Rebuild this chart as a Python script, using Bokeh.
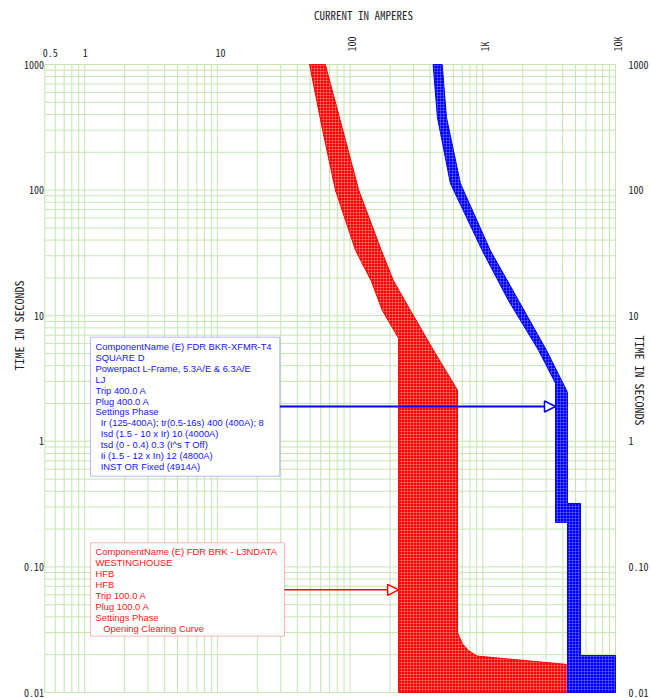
import math
from bokeh.plotting import figure
from bokeh.models import Range1d, Label, BoxAnnotation, Arrow, NormalHead
from bokeh.embed import file_html
from bokeh.resources import INLINE
from bokeh.core.properties import value

# ---------------- data ----------------
# Westinghouse HFB 100A - opening/clearing band (amps, seconds)
red_min_amps = [49.5, 61.5, 77.5, 110, 144, 175, 232, 232]
red_min_secs = [1000, 315, 100, 33, 19, 11, 6.6, 0.01]
red_max_amps = [65, 87, 116, 172, 212, 285, 425, 645, 645, 700, 780, 905, 4350, 4350]
red_max_secs = [1000, 315, 100, 33, 19, 11, 5.3, 2.55, 0.030, 0.0245, 0.0216, 0.0195, 0.0167, 0.01]

# Square D Powerpact LJ 400A band
blue_min_amps = [422, 455, 570, 990, 1560, 2630, 3530, 3530, 4350, 4350]
blue_min_secs = [1000, 380, 113, 33, 13.2, 5.3, 2.9, 0.226, 0.226, 0.01]
blue_max_amps = [494, 532, 678, 1140, 1860, 3020, 4350, 4350, 5450, 5450, 10000, 10000]
blue_max_secs = [1000, 380, 113, 33, 13.2, 5.3, 2.45, 0.32, 0.32, 0.0197, 0.0197, 0.01]

top_flat_ticks = [0.5, 1, 10]
top_flat_labels = ["0.5", "1", "10"]
top_rot_ticks = [100, 1000, 10000]
top_rot_labels = ["100", "1K", "10K"]
side_ticks = [1000, 100, 10, 1, 0.1, 0.01]
side_labels = ["1000", "100", "10", "1", "0.10", "0.01"]

x_lo, x_hi = 0.5, 10000
y_lo, y_hi = 0.01, 1000
x_decades = [0.1, 1, 10, 100, 1000, 10000]
y_decades = [0.01, 0.1, 1, 10, 100, 1000]
minor_mult = [1, 2, 3, 4, 5, 6, 7, 8, 9]

blue_lines = [
    "ComponentName (E) FDR BKR-XFMR-T4",
    "SQUARE D",
    "Powerpact L-Frame, 5.3A/E & 6.3A/E",
    "LJ",
    "Trip 400.0 A",
    "Plug 400.0 A",
    "Settings Phase",
    "\u00a0\u00a0Ir (125-400A); tr(0.5-16s) 400 (400A); 8",
    "\u00a0\u00a0Isd (1.5 - 10 x Ir) 10 (4000A)",
    "\u00a0\u00a0tsd (0 - 0.4) 0.3 (I^s T Off)",
    "\u00a0\u00a0Ii (1.5 - 12 x In) 12 (4800A)",
    "\u00a0\u00a0INST OR Fixed (4914A)",
]
red_lines = [
    "ComponentName (E) FDR BRK - L3NDATA",
    "WESTINGHOUSE",
    "HFB",
    "HFB",
    "Trip 100.0 A",
    "Plug 100.0 A",
    "Settings Phase",
    "\u00a0\u00a0\u00a0Opening Clearing Curve",
]

# ---------------- geometry: canvas pixel <-> data (log-log) ----------------
W, H = 650, 698
FX0, FX1, FY0, FY1 = 44.3, 615.0, 64.0, 692.0
XDEC = (FX1 - FX0) / math.log10(x_hi / x_lo)
YDEC = (FY1 - FY0) / math.log10(y_hi / y_lo)


def ax(px):
    return x_lo * 10 ** ((px - FX0) / XDEC)


def ty(py):
    return y_hi * 10 ** (-(py - FY0) / YDEC)


GRID = "#c6e5b1"
MONO = "Noto Sans Mono CJK JP, DejaVu Sans Mono"
SANS = "Liberation Sans"
TXT = "#1e1e2a"

p = figure(width=W, height=H, x_axis_type="log", y_axis_type="log",
           x_range=Range1d(ax(0), ax(W)), y_range=Range1d(ty(H), ty(0)),
           x_axis_location=None, y_axis_location=None,
           output_backend="svg", toolbar_location=None,
           min_border=0, min_border_left=0, min_border_right=0,
           min_border_top=0, min_border_bottom=0)
p.outline_line_color = None
p.background_fill_color = "white"
p.border_fill_color = "white"
p.grid.visible = False

# log grid (chart area 0.5 A .. 10 kA, 0.01 s .. 1000 s)
gx = sorted({round(m * d, 6) for d in x_decades for m in minor_mult if x_lo <= m * d <= x_hi})
gy = sorted({round(m * d, 6) for d in y_decades for m in minor_mult if y_lo <= m * d <= y_hi})
p.segment(x0=gx, y0=[y_lo] * len(gx), x1=gx, y1=[y_hi] * len(gx), line_color=GRID, line_width=1)
p.segment(x0=[x_lo] * len(gy), y0=gy, x1=[x_hi] * len(gy), y1=gy, line_color=GRID, line_width=1)

# bands
red_x = red_min_amps + red_max_amps[::-1]
red_y = red_min_secs + red_max_secs[::-1]
blue_x = blue_min_amps + blue_max_amps[::-1]
blue_y = blue_min_secs + blue_max_secs[::-1]
p.patch(red_x, red_y, fill_color="#ff0000", line_color="#ff0000", line_width=1,
        hatch_pattern="+", hatch_color="white", hatch_alpha=0.45, hatch_scale=3, hatch_weight=0.6)
p.patch(blue_x, blue_y, fill_color="#0000ff", line_color="#0000ff", line_width=1,
        hatch_pattern="+", hatch_color="white", hatch_alpha=0.35, hatch_scale=3, hatch_weight=0.6)

# tick labels
tick_font = dict(text_font=value(MONO), text_font_size="10px", text_color=TXT)
p.text(x=top_flat_ticks, y=[ty(52)] * 3, text=top_flat_labels, x_offset=-2,
       text_align="left", text_baseline="alphabetic", **tick_font)
p.text(x=top_rot_ticks, y=[ty(51)] * 3, text=top_rot_labels, x_offset=2, angle=math.pi / 2,
       text_align="left", text_baseline="middle", **tick_font)
p.text(x=[ax(43.5)] * len(side_ticks), y=side_ticks, text=side_labels,
       text_align="right", text_baseline="middle", **tick_font)
p.text(x=[ax(628)] * len(side_ticks), y=side_ticks, text=side_labels,
       text_align="left", text_baseline="middle", **tick_font)

# axis titles
p.text(x=[ax(363)], y=[ty(14)], text=["CURRENT IN AMPERES"], text_align="center",
       text_baseline="middle", text_font=value(MONO), text_font_size="11px", text_color=TXT)
p.text(x=[ax(18)], y=[ty(325)], text=["TIME IN SECONDS"], angle=math.pi / 2, text_align="center",
       text_baseline="middle", text_font=value(MONO), text_font_size="12px", text_color=TXT)
p.text(x=[ax(640)], y=[ty(380)], text=["TIME IN SECONDS"], angle=-math.pi / 2, text_align="center",
       text_baseline="middle", text_font=value(MONO), text_font_size="12px", text_color=TXT)

# callout boxes
BLUE = "#1414ff"
RED = "#ff1414"
p.add_layout(BoxAnnotation(left=ax(90), right=ax(279.3), top=ty(336.7), bottom=ty(475.7),
                           fill_color="white", fill_alpha=1, line_color=BLUE, line_width=1))
p.add_layout(BoxAnnotation(left=ax(90), right=ax(284), top=ty(542.3), bottom=ty(635.7),
                           fill_color="white", fill_alpha=1, line_color=RED, line_width=1))
for i, line in enumerate(blue_lines):
    p.add_layout(Label(x=ax(95), y=ty(346), y_offset=-i * 10.9, text=line, text_align="left",
                       text_baseline="middle", text_font=SANS, text_font_size="9.4px", text_color=BLUE))
for i, line in enumerate(red_lines):
    p.add_layout(Label(x=ax(95), y=ty(551), y_offset=-i * 11.0, text=line, text_align="left",
                       text_baseline="middle", text_font=SANS, text_font_size="9.4px", text_color=RED))

# arrows
p.add_layout(Arrow(x_start=ax(279.3), y_start=ty(406), x_end=blue_min_amps[6], y_end=ty(406),
                   line_color="#0000ff", line_width=2,
                   end=NormalHead(size=11, fill_color="white", line_color="#0000ff", line_width=1.5)))
p.add_layout(Arrow(x_start=ax(284), y_start=ty(589.3), x_end=red_min_amps[-1], y_end=ty(589.3),
                   line_color="#ff0000", line_width=1.5,
                   end=NormalHead(size=11, fill_color="white", line_color="#ff0000", line_width=1.5)))

open("out.html", "w").write(file_html(p, INLINE))
